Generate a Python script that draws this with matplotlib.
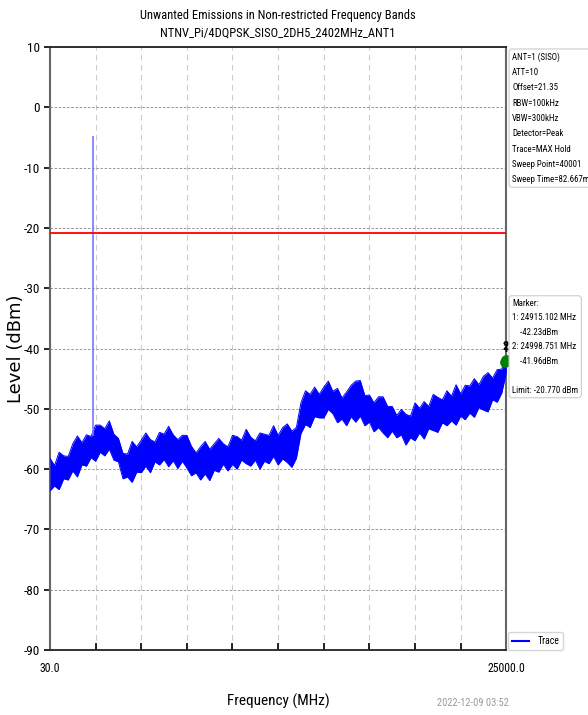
import numpy as np
import matplotlib
matplotlib.use('Agg')
import matplotlib.pyplot as plt
from matplotlib import font_manager
from matplotlib.lines import Line2D

plt.rcParams['axes.unicode_minus'] = False

# sweep settings
f_start = 30.0
f_stop = 25000.0
n_pts = 101

# trace envelope (dBm) over the sweep, max hold
upper = [-58.2, -59.4, -57.2, -57.8, -57.9, -55.8, -54.5, -55.6, -54.3, -54.6,
         -52.7, -52.7, -53.3, -52.0, -54.2, -54.9, -57.4, -57.5, -55.4, -56.3,
         -55.2, -54.0, -55.1, -55.5, -53.9, -54.2, -52.9, -54.3, -55.1, -54.4,
         -54.4, -56.2, -57.3, -56.3, -55.4, -56.7, -55.8, -54.9, -55.8, -56.3,
         -54.4, -54.6, -55.2, -53.4, -54.7, -55.3, -54.0, -54.2, -54.4, -52.8,
         -54.4, -53.1, -52.5, -53.7, -53.1, -49.0, -47.0, -47.6, -46.4, -47.6,
         -46.4, -45.4, -47.1, -46.6, -48.2, -47.2, -46.1, -45.4, -45.3, -47.8,
         -47.7, -49.0, -48.0, -48.0, -49.6, -49.6, -51.1, -50.1, -50.9, -51.2,
         -49.0, -49.9, -48.8, -49.6, -47.6, -48.1, -48.5, -47.0, -47.9, -46.0,
         -47.5, -46.1, -46.2, -45.0, -46.0, -44.6, -44.0, -44.9, -43.5, -43.4,
         -41.0]
lower = [-63.6, -62.8, -63.4, -61.6, -61.8, -60.3, -61.3, -59.3, -59.5, -58.1,
         -58.7, -57.2, -57.8, -56.7, -58.5, -58.8, -61.6, -61.3, -62.2, -60.5,
         -60.6, -59.5, -60.6, -58.8, -59.3, -58.4, -59.6, -58.6, -59.9, -58.7,
         -59.8, -61.1, -60.6, -61.8, -60.8, -61.9, -60.2, -60.5, -59.2, -60.3,
         -59.2, -60.0, -58.5, -59.1, -59.5, -58.5, -60.0, -58.7, -59.1, -57.9,
         -59.3, -58.3, -58.9, -59.7, -58.2, -54.1, -52.6, -53.1, -51.3, -51.5,
         -51.5, -50.1, -50.8, -52.3, -51.7, -52.8, -51.3, -52.2, -51.2, -52.8,
         -52.2, -53.8, -53.1, -54.0, -54.8, -53.7, -54.8, -54.3, -56.0, -54.8,
         -55.3, -54.0, -55.0, -53.3, -53.6, -53.9, -52.3, -52.8, -52.0, -52.7,
         -51.2, -51.8, -50.7, -51.4, -49.8, -50.2, -50.5, -48.5, -48.9, -47.4,
         -44.0]

# carrier leaking into the band
spike_freq = 2402.0
spike_top = -4.8
spike_base = -54.5

limit = -20.77

marker_names = ['1', '2']
marker_freqs = [24915.102, 24998.751]
marker_levels = [-42.23, -41.96]

settings = ['ANT=1 (SISO)', 'ATT=10', 'Offset=21.35', 'RBW=100kHz', 'VBW=300kHz',
            'Detector=Peak', 'Trace=MAX Hold', 'Sweep Point=40001',
            'Sweep Time=82.667ms']

title = 'Unwanted Emissions in Non-restricted Frequency Bands\nNTNV_Pi/4DQPSK_SISO_2DH5_2402MHz_ANT1'
stamp = '2022-12-09 03:52'


def first_font(names):
    for name in names:
        try:
            font_manager.findfont(name, fallback_to_default=False)
            return name
        except ValueError:
            pass
    return 'DejaVu Sans'


narrow = first_font(['Roboto Condensed', 'Liberation Sans Narrow', 'Arial Narrow',
                     'Roboto', 'Liberation Sans'])

freq = np.linspace(f_start, f_stop, n_pts)

fig = plt.figure(figsize=(5.88, 7.15), dpi=100)
ax = fig.add_axes([0.085, 0.091, 0.776, 0.843])

ax.fill_between(freq, lower, upper, color='blue', lw=0, zorder=3)
ax.plot(freq, upper, color='blue', lw=0.7, zorder=3)
ax.plot(freq, lower, color='blue', lw=0.7, zorder=3)
ax.vlines(spike_freq, spike_base, spike_top, color='#7777ff', lw=1.2, zorder=3)
ax.axhline(limit, color='red', lw=1.3, zorder=4)

ax.scatter(marker_freqs, marker_levels, color='green', s=45, zorder=5, clip_on=False)
for name, f, lv in zip(marker_names, marker_freqs, marker_levels):
    ax.text(f, lv + 1.2, name, ha='center', va='bottom', fontsize=9,
            fontweight='bold', family=narrow, zorder=6, clip_on=False)

ax.set_xlim(f_start, f_stop)
ax.set_ylim(-90, 10)
ax.set_yticks(np.arange(-90, 11, 10))
xt = np.linspace(f_start, f_stop, 11)
ax.set_xticks(xt)
ax.set_xticklabels(['30.0'] + [''] * 9 + ['25000.0'])
ax.tick_params(axis='x', direction='in', length=5, width=1.2, labelsize=8.5, pad=9)
ax.tick_params(axis='y', direction='out', length=4, width=1.2, labelsize=9.5)
for lab in ax.get_xticklabels() + ax.get_yticklabels():
    lab.set_family(narrow)

ax.grid(axis='y', ls=(0, (3, 2)), color='#888888', lw=0.6)
ax.grid(axis='x', ls=(0, (5, 4)), color='#cccccc', lw=0.8)
ax.set_axisbelow(True)
for side in ['left', 'right']:
    ax.spines[side].set_color('#666666')
    ax.spines[side].set_linewidth(1.5)
for side in ['top', 'bottom']:
    ax.spines[side].set_color('#222222')
    ax.spines[side].set_linewidth(1.3)

ax.set_title(title, fontsize=9, family=narrow, pad=8, linespacing=1.45)
ax.set_ylabel('Level (dBm)', fontsize=13, family='DejaVu Sans', va='center')
ax.yaxis.set_label_coords(-0.075, 0.5)
ax.set_xlabel('Frequency (MHz)', fontsize=11, family=narrow, labelpad=13)

fig.text(0.743, 0.012, stamp, fontsize=7.5, color='#999999', family=narrow)

fig.text(0.871, 0.927, '\n'.join(settings), fontsize=6.4, family=narrow,
         va='top', linespacing=1.9,
         bbox=dict(boxstyle='round,pad=0.35', fc='white', ec='#cccccc', lw=0.8))

marker_lines = ['Marker:']
for name, f, lv in zip(marker_names, marker_freqs, marker_levels):
    marker_lines.append(f'{name}: {f:.3f} MHz')
    marker_lines.append(f'    {lv:.2f}dBm')
marker_lines += ['', f'Limit: {limit:.3f} dBm']
fig.text(0.871, 0.582, '\n'.join(marker_lines), fontsize=6.4, family=narrow,
         va='top', linespacing=1.78,
         bbox=dict(boxstyle='round,pad=0.35', fc='white', ec='#cccccc', lw=0.8))

handle = Line2D([], [], color='blue', lw=1.5)
leg = ax.legend([handle], ['Trace'], loc='lower left', bbox_to_anchor=(1.004, 0.0),
                borderaxespad=0, handlelength=1.8, frameon=True,
                prop={'family': narrow, 'size': 7})
leg.get_frame().set_edgecolor('#cccccc')

fig.savefig('out.png', dpi=100)
